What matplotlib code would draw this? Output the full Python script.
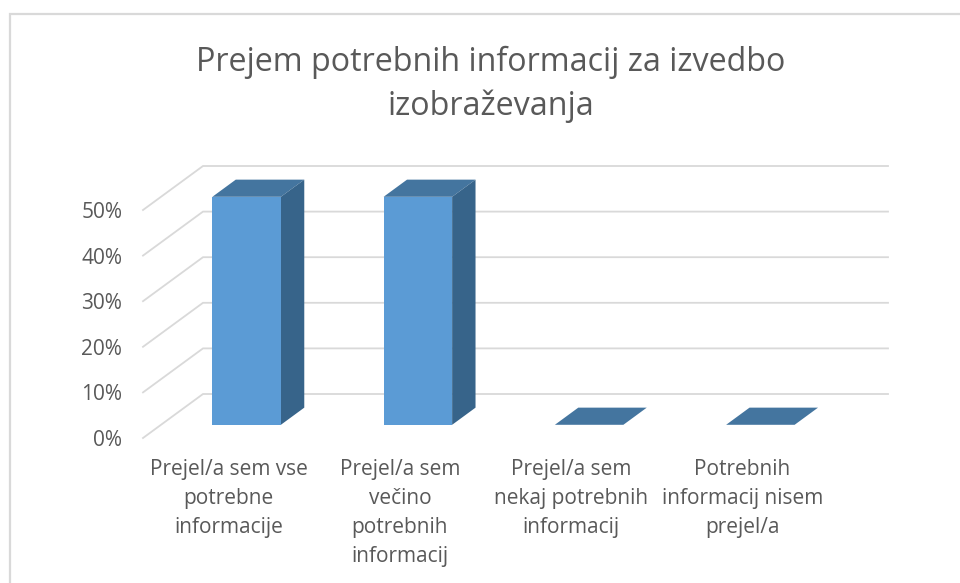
import matplotlib
matplotlib.use("Agg")
import matplotlib.pyplot as plt
from matplotlib.patches import Polygon
from matplotlib.lines import Line2D

title = "Prejem potrebnih informacij za izvedbo\nizobraževanja"
categories = ["Prejel/a sem vse\npotrebne\ninformacije",
              "Prejel/a sem\nvečino\npotrebnih\ninformacij",
              "Prejel/a sem\nnekaj potrebnih\ninformacij",
              "Potrebnih\ninformacij nisem\nprejel/a"]
values = [50, 50, 0, 0]
ticks = [0, 10, 20, 30, 40, 50]
tick_labels = ["0%", "10%", "20%", "30%", "40%", "50%"]

W, H = 960, 583
FONT = "Open Sans"
TEXT = "#595959"
GRID = "#D9D9D9"
FRONT, SIDE, TOP = "#5B9BD5", "#37648A", "#44759F"

fig = plt.figure(figsize=(W / 100, H / 100), dpi=100, facecolor="white")

# axes = the front plane of the 3-D box
L, R, B, T = 143, 828, 438, 210
ax = fig.add_axes([L / W, 1 - B / H, (R - L) / W, (B - T) / H])
ax.set_xlim(-0.5, 3.5)
ax.set_ylim(0, 50)
ax.patch.set_visible(False)
for s in ax.spines.values():
    s.set_visible(False)

DX = 60 / ((R - L) / 4)   # x data shift of full floor depth
DY = 44 / ((B - T) / 50)  # y data shift of full floor depth


def proj(x, y, d):
    return (x + DX * d, y + DY * d)


def poly(points, color, z):
    ax.add_patch(Polygon(points, closed=True, facecolor=color, edgecolor="none",
                         clip_on=False, zorder=z))


# gridlines: side wall + back wall
for t in ticks:
    a, b = proj(-0.5, t, 0), proj(-0.5, t, 1)
    c = proj(3.5, t, 1)
    ax.plot([a[0], b[0], c[0]], [a[1], b[1], c[1]], color=GRID, lw=1.3,
            clip_on=False, zorder=1, solid_joinstyle="miter")

# bars
w = 0.4
d0, d1 = 0.30, 0.69
for i, v in enumerate(values):
    x0, x1 = i - w / 2, i + w / 2
    poly([proj(x0, v, d0), proj(x1, v, d0), proj(x1, v, d1), proj(x0, v, d1)], TOP, 3)
    if v > 0:
        poly([proj(x1, 0, d0), proj(x1, v, d0), proj(x1, v, d1), proj(x1, 0, d1)], SIDE, 3)
        poly([proj(x0, 0, d0), proj(x1, 0, d0), proj(x1, v, d0), proj(x0, v, d0)], FRONT, 4)

ax.set_yticks(ticks, tick_labels, fontfamily=FONT, fontsize=15, color=TEXT)
ax.set_xticks(range(len(categories)), categories, fontfamily=FONT, fontsize=15,
              color=TEXT, linespacing=1.5)
ax.tick_params(axis="both", length=0)
ax.tick_params(axis="y", pad=15)
ax.tick_params(axis="x", pad=15)

# chart frame: only the top and left edges are in view
fig.add_artist(Line2D([10 / W, 10 / W, 1], [0, 1 - 14.3 / H, 1 - 14.3 / H],
                      color=GRID, lw=1.6, solid_joinstyle="miter"))

fig.text(491 / W, 1 - 84.5 / H, title, ha="center", va="center", fontfamily=FONT,
         fontsize=23.2, color=TEXT, linespacing=1.42)

fig.savefig("out.png", dpi=100, facecolor="white")
